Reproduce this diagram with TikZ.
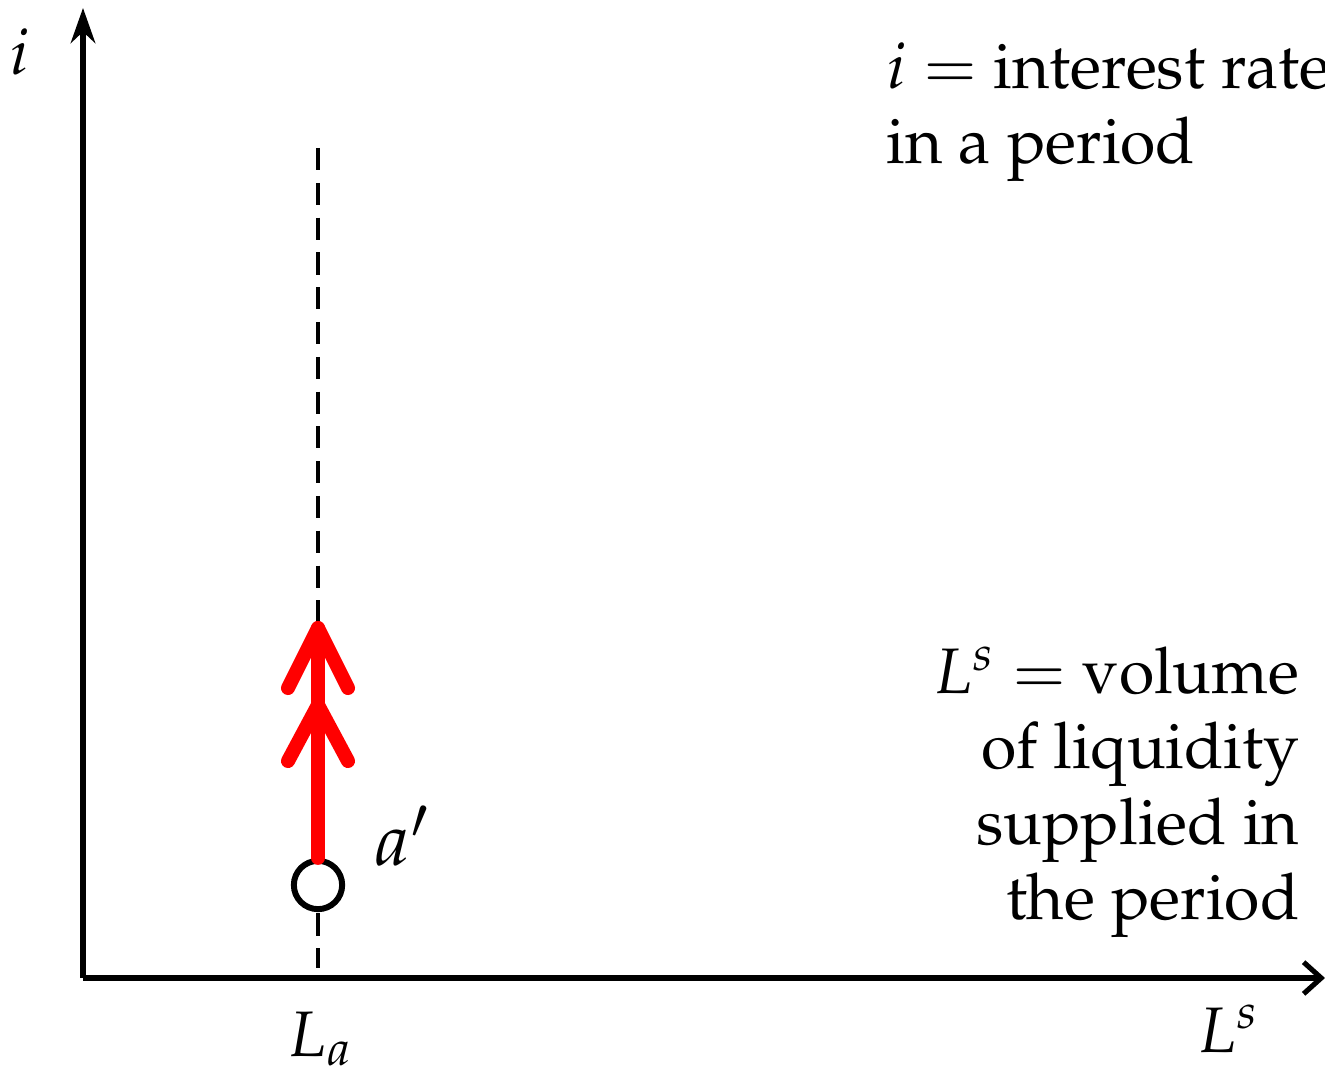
\documentclass[tikz,border=0pt]{standalone}
\usepackage{amsmath}
\usepackage[T1]{fontenc}
\usepackage{mathpazo}
\usepackage{xcolor}
\usetikzlibrary{arrows.meta,positioning,calc}
\definecolor{SupplyRed}{HTML}{FF0000}

\begin{document}
\begin{tikzpicture}[
    lbl/.style={font=\fontsize{18.3}{21.4}\selectfont, inner sep=0pt},
    axis/.style={line width=1.45pt},
    guide/.style={line width=1pt, dash pattern=on 6.3pt off 3.6pt},
    rise/.style={SupplyRed, line width=4pt, line cap=round, line join=round},
    point/.style={circle, draw, line width=1.7pt, minimum size=1.4cm*0.345, inner sep=0pt},
  ]
    \useasboundingbox (0,0) rectangle (13.25,10.76);
    % axes
    \coordinate (O) at (0.83,0.98);
    \coordinate (ytop) at (0.83,10.68);
    \coordinate (xend) at (13.25,0.98);
    \draw[axis, -{Stealth[length=10pt, width=7pt]}] (O) -- (ytop);
    \draw[axis, -{Straight Barb[length=5pt, width=9pt, line width=1.45pt]}] (O) -- (xend);
    \node[lbl, anchor=base] (ilab) at (0.20,10.01) {$i$};
    \node[lbl, anchor=base] (Ls) at (12.28,0.24) {$L^s$};
    \node[lbl, anchor=base] (La) at (3.20,0.20) {$L_a$};
    % vertical guide at L_a
    \coordinate (gtop) at (3.18,9.28);
    \coordinate (gbot) at (3.18,1.08);
    \draw[guide] (gtop) -- (gbot);
    % point a' and upward shift
    \node[point, fill=white] (a) at (3.18,1.91) {};
    \node[lbl, font=\fontsize{21}{24}\selectfont, anchor=base west] (alab) at (3.74,2.11) {$a'$};
    \coordinate (tip1) at (3.18,4.48);
    \coordinate (tip2) at (3.18,3.71);
    \draw[rise] (a.north) -- (tip1);
    \draw[rise] ($(tip1)+(-0.30,-0.60)$) -- (tip1) -- ($(tip1)+(0.30,-0.60)$);
    \draw[rise] ($(tip2)+(-0.30,-0.56)$) -- (tip2) -- ($(tip2)+(0.30,-0.56)$);
    % legends
    \node[lbl, anchor=north west, align=left] (ikey) at (8.86,10.34)
      {$i =$ interest rate\\in a period};
    \node[lbl, anchor=north east, align=right] (Lkey) at (13.00,4.30)
      {$L^s =$ volume\\of liquidity\\supplied in\\the period};
  \end{tikzpicture}
\end{document}
